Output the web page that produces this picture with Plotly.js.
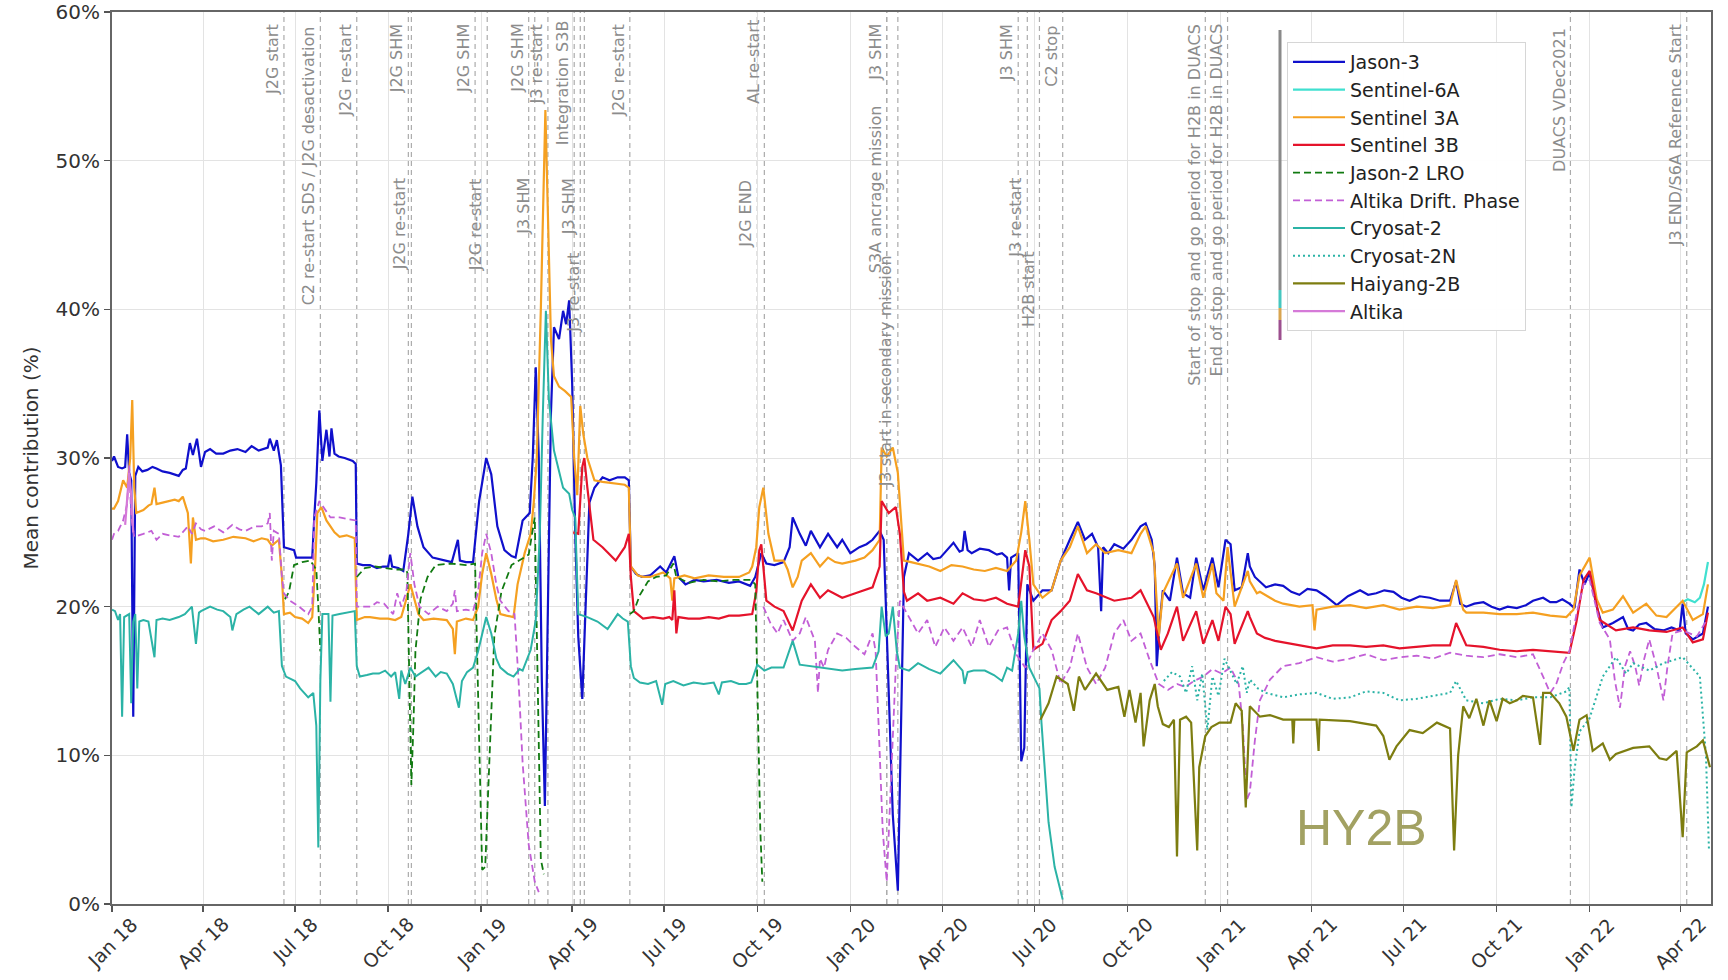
<!DOCTYPE html>
<html>
<head>
<meta charset="utf-8">
<script src="https://cdn.plot.ly/plotly-3.0.1.min.js"></script>
<style>
  html, body { margin: 0; padding: 0; background: #ffffff; }
  #chart { width: 1728px; height: 980px; }
</style>
</head>
<body>
<div id="chart"></div>
<script>
// ---------------- DATA (x = days since 2018-01-01, y = mean contribution in %) ----------------
const jason3 = [[0,29.8],[2,30.1],[6,29.4],[10,29.3],[13,29.4],[15,31.6],[17,29.0],[19,28.5],[21,12.6],[23,28.8],[26,29.4],[30,29.1],[35,29.2],[40,29.4],[44,29.3],[50,29.1],[57,29.0],[62,28.9],[66,28.8],[70,29.2],[73,29.3],[77,31.0],[80,30.2],[84,31.3],[88,29.4],[92,30.4],[97,30.6],[103,30.3],[110,30.3],[117,30.5],[124,30.6],[132,30.4],[138,30.8],[145,30.5],[150,30.6],[154,30.7],[156,31.3],[160,30.5],[163,31.2],[165,30.4],[167,29.5],[170,24.0],[175,23.9],[180,23.8],[182,23.3],[190,23.3],[198,23.3],[200,26.0],[202,28.3],[205,33.2],[208,29.8],[212,31.9],[215,30.1],[217,32.0],[220,30.3],[224,30.1],[230,30.0],[238,29.8],[241,29.6],[242,22.9],[248,22.8],[255,22.8],[262,22.6],[268,22.7],[273,22.7],[275,23.5],[277,22.7],[283,22.6],[288,22.4],[293,24.9],[297,27.4],[302,25.4],[308,24.0],[317,23.3],[324,23.2],[331,23.1],[336,23.0],[342,24.5],[344,23.1],[350,23.0],[357,23.0],[363,27.1],[370,30.0],[375,28.9],[381,25.4],[388,23.8],[395,23.4],[399,23.3],[406,25.8],[413,26.3],[416,30.0],[419,36.1],[422,30.0],[425,15.0],[428,6.6],[431,20.0],[434,33.0],[437,38.8],[442,38.0],[446,39.9],[449,39.0],[452,40.6],[455,35.0],[458,25.0],[461,18.0],[465,13.8],[468,20.0],[472,27.0],[477,28.0],[485,28.7],[492,28.5],[500,28.7],[507,28.7],[511,28.5],[513,22.7],[518,22.2],[524,22.0],[532,22.1],[542,22.7],[548,22.3],[556,23.4],[560,22.0],[567,21.5],[576,21.8],[585,21.7],[598,21.8],[610,21.6],[620,21.7],[631,21.4],[636,22.0],[642,23.6],[647,22.9],[655,22.8],[664,23.0],[670,24.0],[673,26.0],[680,24.9],[686,24.1],[691,25.1],[700,24.0],[708,24.9],[717,24.0],[722,24.5],[730,23.6],[739,24.0],[746,24.2],[752,24.5],[759,25.1],[763,24.5],[767,16.0],[772,6.0],[777,0.9],[780,12.0],[783,22.0],[788,23.6],[797,23.1],[806,23.6],[812,23.2],[819,23.3],[826,23.8],[832,24.3],[838,23.7],[841,23.8],[843,25.1],[846,23.8],[850,23.6],[858,23.9],[867,23.8],[875,23.5],[880,23.6],[885,23.3],[887,21.1],[889,23.3],[896,23.6],[899,9.6],[902,10.5],[905,21.5],[911,20.4],[920,21.1],[929,21.1],[938,23.1],[947,24.5],[955,25.7],[962,24.5],[969,24.9],[975,24.0],[978,19.7],[980,24.0],[985,23.6],[991,24.2],[1000,23.9],[1008,24.5],[1017,25.4],[1022,25.6],[1028,24.5],[1031,22.7],[1033,16.0],[1036,19.0],[1039,21.1],[1046,20.4],[1053,23.3],[1059,20.9],[1066,20.6],[1072,23.3],[1079,21.1],[1088,23.3],[1094,21.3],[1101,24.5],[1106,24.2],[1110,21.1],[1117,21.3],[1123,23.6],[1125,22.7],[1130,22.0],[1141,21.3],[1150,21.5],[1158,21.4],[1166,21.0],[1174,20.8],[1182,21.2],[1191,21.1],[1200,20.7],[1211,20.1],[1222,20.7],[1234,21.1],[1242,20.8],[1250,20.9],[1258,21.1],[1267,21.0],[1275,20.6],[1283,20.4],[1293,20.7],[1303,20.6],[1313,20.4],[1323,20.4],[1329,21.7],[1333,20.2],[1339,20.0],[1347,20.2],[1356,20.3],[1364,20.0],[1372,19.8],[1380,20.0],[1389,19.9],[1398,20.1],[1405,20.4],[1415,20.6],[1422,20.3],[1428,20.3],[1434,20.5],[1441,20.2],[1446,19.9],[1451,22.5],[1456,21.5],[1461,22.3],[1468,20.0],[1474,18.6],[1484,18.9],[1494,19.3],[1499,18.5],[1504,18.4],[1510,18.8],[1517,18.9],[1525,18.5],[1534,18.4],[1542,18.6],[1550,18.4],[1553,20.2],[1556,18.2],[1563,17.8],[1568,18.0],[1573,18.2],[1578,20.0]];

const sentinel6A = [[1553,20.3],[1558,20.5],[1565,20.3],[1570,20.6],[1574,21.5],[1578,23.0]];

const sentinel3A = [[0,26.6],[2,26.6],[6,27.1],[11,28.5],[15,28.0],[18,30.0],[20,33.9],[22,28.0],[24,26.3],[31,26.5],[36,26.8],[39,26.9],[42,28.0],[44,26.9],[50,27.0],[57,27.1],[62,27.2],[66,27.1],[70,27.4],[75,26.3],[78,22.9],[80,26.0],[83,24.5],[88,24.6],[92,24.6],[100,24.4],[110,24.5],[120,24.7],[132,24.6],[140,24.4],[148,24.6],[154,24.5],[158,24.1],[165,24.5],[168,22.0],[170,19.5],[176,19.6],[181,19.3],[188,19.2],[194,18.9],[198,19.3],[201,23.0],[203,26.3],[207,26.7],[212,25.8],[216,25.4],[220,25.0],[225,24.7],[232,24.8],[240,24.6],[242,19.1],[250,19.3],[255,19.3],[265,19.2],[273,19.2],[280,19.1],[286,19.3],[291,20.5],[295,21.5],[299,20.5],[303,19.5],[308,19.1],[318,19.2],[331,19.1],[337,18.5],[339,16.8],[341,19.0],[350,19.2],[357,19.1],[362,20.0],[366,22.2],[370,23.6],[375,22.2],[380,20.5],[384,19.5],[390,19.4],[397,19.3],[401,21.5],[408,23.6],[414,24.9],[417,27.0],[420,30.0],[424,40.0],[428.5,53.4],[431,46.0],[434,38.0],[437,35.5],[442,34.8],[448,34.5],[454,34.1],[457,30.0],[460,27.5],[463,33.5],[466,31.6],[470,30.0],[477,28.5],[485,28.4],[495,28.3],[507,28.2],[511,28.0],[513,22.7],[520,22.1],[525,22.0],[532,22.0],[545,22.3],[552,21.9],[554,20.4],[556,21.9],[566,22.1],[576,21.9],[590,22.1],[605,22.0],[620,22.0],[630,22.3],[633,22.7],[637,24.0],[640,26.7],[644,28.0],[649,24.9],[655,23.1],[664,23.1],[668,22.5],[673,21.3],[678,22.0],[682,23.1],[691,23.6],[700,22.7],[708,23.3],[715,23.0],[722,22.9],[735,23.1],[744,23.3],[752,23.8],[759,24.5],[761,30.7],[766,30.1],[772,30.7],[777,29.0],[780,26.0],[783,23.1],[790,23.0],[797,22.9],[808,22.7],[819,22.4],[830,22.8],[841,22.7],[852,22.5],[863,22.4],[874,22.6],[885,22.4],[894,23.1],[899,25.0],[903,27.1],[907,24.5],[911,21.5],[920,20.6],[929,21.1],[938,23.1],[947,24.0],[955,25.4],[964,23.6],[973,24.2],[982,23.6],[995,23.8],[1008,23.6],[1017,24.9],[1022,25.4],[1030,23.6],[1035,18.0],[1039,20.9],[1053,22.9],[1059,20.6],[1072,22.9],[1079,20.6],[1088,22.9],[1092,20.9],[1099,20.4],[1103,24.0],[1110,20.0],[1123,22.4],[1125,21.7],[1132,20.9],[1135,21.0],[1145,20.6],[1150,20.4],[1158,20.2],[1174,20.0],[1187,20.1],[1189,18.4],[1191,19.8],[1207,20.0],[1224,20.1],[1240,19.9],[1257,20.1],[1273,19.8],[1290,20.0],[1306,19.9],[1323,20.1],[1329,21.8],[1336,19.8],[1339,19.6],[1356,19.6],[1372,19.5],[1389,19.5],[1405,19.6],[1422,19.4],[1438,19.3],[1445,19.8],[1451,22.1],[1461,23.3],[1468,20.5],[1474,19.6],[1484,19.8],[1494,20.7],[1504,19.6],[1517,20.2],[1527,19.4],[1537,19.3],[1553,20.4],[1563,19.1],[1573,19.5],[1578,21.5]];

const sentinel3B = [[456,25.0],[461,24.9],[465,29.4],[467,30.0],[470,28.0],[476,24.5],[485,24.0],[492,23.5],[498,23.1],[503,23.6],[507,24.0],[511,24.9],[513,22.0],[516,19.7],[525,19.2],[535,19.3],[545,19.2],[551,19.3],[554,19.1],[556,21.1],[558,18.2],[560,19.3],[570,19.2],[581,19.2],[590,19.3],[600,19.2],[610,19.4],[620,19.4],[633,19.5],[637,21.0],[640,23.8],[642,24.2],[645,22.0],[647,20.4],[655,20.0],[664,19.7],[673,18.4],[682,20.4],[691,21.5],[700,20.6],[708,21.1],[722,20.6],[735,20.9],[752,21.3],[759,22.7],[761,27.1],[768,26.3],[775,26.7],[779,24.9],[783,21.0],[786,20.4],[797,20.9],[806,20.4],[819,20.6],[832,20.2],[841,20.9],[852,20.5],[863,20.4],[874,20.6],[885,20.2],[896,20.0],[900,22.0],[903,23.8],[907,22.7],[911,17.1],[920,17.5],[929,19.1],[938,19.7],[947,20.4],[955,22.2],[964,21.1],[973,20.9],[991,20.4],[1008,20.6],[1017,21.1],[1030,19.3],[1037,17.1],[1044,18.2],[1053,20.0],[1059,17.7],[1072,19.7],[1079,17.5],[1088,19.1],[1094,17.7],[1101,20.0],[1106,19.5],[1110,17.5],[1123,19.7],[1125,19.3],[1132,18.2],[1140,17.9],[1150,17.7],[1158,17.6],[1174,17.4],[1191,17.2],[1207,17.4],[1224,17.4],[1240,17.3],[1257,17.4],[1273,17.2],[1290,17.3],[1306,17.4],[1323,17.4],[1329,18.9],[1339,17.4],[1356,17.3],[1372,17.1],[1389,17.0],[1405,17.1],[1422,17.0],[1441,16.9],[1448,19.0],[1455,21.8],[1461,22.4],[1471,19.1],[1487,18.4],[1504,18.6],[1520,18.4],[1537,18.3],[1553,18.6],[1563,17.6],[1573,17.8],[1578,19.6]];

const jason2LRO = [[171,20.5],[175,21.0],[180,22.8],[188,23.0],[196,23.1],[202,22.5],[204,20.0],[206,17.0],[207,null],[242,22.0],[250,22.6],[260,22.7],[270,22.6],[280,22.5],[290,22.5],[292,22.3],[294,15.0],[296,8.0],[298,12.0],[300,17.0],[305,20.5],[312,22.0],[320,22.8],[335,22.9],[350,22.8],[359,22.9],[362,14.0],[366,2.3],[369,2.5],[371,6.0],[374,12.0],[378,18.0],[385,21.0],[395,22.8],[405,23.2],[412,23.5],[418,26.0],[421,15.0],[424,3.0],[427,2.0],[428,null],[512,19.5],[516,19.7],[522,20.8],[530,21.7],[538,22.0],[548,22.1],[555,22.9],[558,22.0],[570,21.6],[585,21.8],[600,21.7],[615,21.8],[632,21.8],[636,21.5],[638,15.0],[641,5.0],[643,1.5]];

const altikaDrift = [[0,24.5],[2,24.9],[6,25.1],[11,25.8],[15,26.9],[17,29.5],[19,26.0],[22,24.7],[31,24.9],[39,25.1],[44,24.5],[50,24.9],[57,24.8],[66,24.7],[75,25.4],[79,24.9],[83,25.6],[88,25.2],[92,25.1],[101,25.4],[110,25.0],[119,25.5],[126,25.2],[132,25.1],[141,25.4],[148,25.4],[154,25.6],[156,26.3],[158,23.1],[160,25.1],[165,24.9],[168,22.0],[170,20.9],[176,20.4],[185,20.0],[194,19.5],[198,20.0],[200,26.0],[205,27.1],[209,26.7],[216,26.0],[225,26.0],[232,25.9],[238,25.8],[241,25.8],[242,20.0],[256,20.0],[262,20.3],[269,20.2],[278,19.5],[282,20.9],[286,20.0],[291,21.0],[295,23.6],[299,21.5],[304,20.0],[313,19.5],[322,20.0],[331,19.7],[337,20.2],[339,21.1],[341,19.7],[350,19.8],[357,19.7],[362,21.0],[366,23.6],[370,24.9],[375,23.6],[380,21.5],[384,20.4],[392,19.7],[398,19.5],[402,15.0],[406,9.5],[412,4.0],[418,1.5],[422,0.8],[423,null],[644,20.0],[651,18.9],[658,18.2],[664,19.1],[673,17.7],[680,18.2],[686,19.3],[695,17.7],[698,14.2],[700,16.5],[704,15.9],[708,17.1],[717,18.2],[726,17.9],[735,17.3],[744,16.8],[752,18.2],[755,17.0],[758,12.0],[762,5.0],[766,1.5],[770,8.0],[775,16.0],[779,20.4],[788,19.3],[797,18.2],[806,19.1],[814,17.3],[823,18.6],[832,17.7],[841,18.6],[850,17.3],[858,19.1],[867,17.3],[876,18.4],[885,18.6],[894,16.8],[903,15.9],[911,17.1],[920,18.2],[929,17.1],[938,14.8],[947,15.9],[955,18.2],[964,15.9],[973,14.8],[982,15.9],[991,18.2],[1000,19.1],[1008,17.7],[1017,18.2],[1026,16.4],[1035,14.8],[1044,14.4],[1053,14.8],[1061,14.6],[1070,15.0],[1079,15.3],[1088,15.8],[1097,15.5],[1106,15.9],[1114,14.8],[1118,12.0],[1122,7.0],[1125,7.5],[1130,11.0],[1135,13.7],[1145,15.1],[1158,16.0],[1174,16.2],[1191,16.6],[1207,16.3],[1224,16.5],[1240,16.8],[1257,16.4],[1273,16.6],[1290,16.7],[1306,16.5],[1323,16.9],[1339,16.7],[1356,16.6],[1372,16.8],[1389,16.6],[1405,16.8],[1415,15.3],[1422,14.2],[1428,14.8],[1435,16.2],[1441,17.0],[1448,19.5],[1455,21.5],[1461,21.8],[1471,18.9],[1481,17.8],[1486,15.0],[1491,13.2],[1496,16.0],[1501,17.0],[1506,16.0],[1510,14.7],[1515,16.5],[1520,17.8],[1527,16.0],[1534,13.7],[1538,16.0],[1543,18.2],[1553,18.4],[1567,18.0],[1576,19.0]];

const cryosat2 = [[0,19.8],[3,19.7],[6,19.1],[8,19.5],[10,12.6],[12,19.3],[17,19.5],[19,13.5],[21,19.0],[23,19.5],[25,14.5],[27,19.0],[31,19.1],[36,19.0],[42,16.6],[44,19.1],[50,19.2],[57,19.1],[66,19.3],[72,19.5],[79,20.0],[83,17.5],[86,19.6],[88,19.7],[97,20.0],[104,19.8],[110,19.7],[117,19.3],[119,18.4],[123,19.5],[130,19.8],[136,20.0],[145,19.5],[150,19.8],[154,20.0],[160,19.6],[165,19.7],[168,16.0],[172,15.3],[181,15.0],[186,14.5],[190,14.2],[194,13.9],[199,14.2],[202,12.0],[204,3.8],[206,15.0],[208,19.5],[214,19.5],[216,13.6],[218,19.4],[225,19.5],[232,19.6],[240,19.7],[242,16.0],[245,15.3],[252,15.4],[258,15.5],[264,15.5],[270,15.7],[276,15.3],[280,15.6],[284,13.8],[286,15.7],[290,14.8],[295,15.9],[300,15.3],[307,15.6],[313,15.9],[320,15.3],[325,15.6],[331,15.5],[337,14.8],[343,13.2],[346,15.0],[351,15.6],[357,15.9],[362,17.0],[366,18.2],[370,19.3],[375,18.2],[380,16.5],[384,15.9],[391,15.5],[397,15.3],[403,15.8],[406,15.7],[414,17.1],[419,19.1],[423,24.9],[426,33.0],[429,39.9],[432,33.9],[437,30.5],[446,28.0],[452,27.6],[455,26.5],[458,26.0],[461,19.5],[470,19.3],[480,19.0],[490,18.5],[500,19.5],[505,19.2],[510,19.0],[513,16.0],[516,15.2],[522,14.9],[530,14.8],[538,15.0],[544,13.4],[547,14.8],[555,15.0],[565,14.7],[575,14.9],[585,14.8],[595,14.9],[600,14.1],[603,14.9],[612,15.0],[620,14.8],[627,14.8],[632,14.9],[638,16.1],[645,15.7],[652,15.9],[664,15.9],[673,17.7],[680,16.1],[690,16.0],[700,15.9],[710,15.8],[722,15.7],[735,15.8],[752,15.9],[758,17.0],[761,20.0],[765,18.0],[768,18.2],[772,20.0],[776,17.0],[779,15.9],[788,15.7],[797,16.2],[808,15.8],[819,15.5],[832,16.4],[841,15.7],[843,14.8],[846,15.6],[852,15.7],[863,15.7],[872,15.4],[880,15.0],[885,15.9],[890,15.7],[896,18.2],[899,20.4],[902,18.0],[907,15.9],[912,15.2],[917,14.5],[919,12.2],[922,9.3],[926,5.5],[932,2.5],[940,0.3]];

const cryosat2N = [[1040,15.0],[1048,15.6],[1056,15.3],[1062,14.2],[1068,16.0],[1073,13.7],[1078,15.5],[1083,11.7],[1088,15.3],[1094,14.0],[1100,16.5],[1106,15.7],[1112,14.8],[1118,16.0],[1122,14.2],[1125,15.1],[1133,14.5],[1141,14.2],[1158,13.9],[1174,14.1],[1191,14.2],[1207,13.8],[1224,13.9],[1240,14.3],[1257,14.2],[1273,13.7],[1290,13.8],[1306,14.0],[1323,14.2],[1329,15.0],[1339,13.7],[1356,13.5],[1372,13.8],[1389,13.7],[1405,13.9],[1422,13.9],[1438,14.3],[1441,14.6],[1443,6.5],[1446,9.0],[1451,11.6],[1461,12.5],[1474,15.3],[1487,16.6],[1497,15.5],[1504,16.2],[1520,15.7],[1534,16.2],[1553,16.6],[1570,15.3],[1576,10.0],[1579,3.6]];

const haiyang2B = [[918,12.4],[926,13.5],[934,15.3],[945,14.8],[951,13.0],[956,15.3],[962,14.4],[973,15.5],[984,14.4],[995,14.6],[1001,12.6],[1006,14.4],[1012,12.2],[1017,14.2],[1020,10.6],[1026,13.7],[1031,14.8],[1034,13.3],[1039,12.1],[1045,11.9],[1050,12.4],[1053,3.2],[1056,12.4],[1062,12.6],[1067,12.2],[1073,3.6],[1075,9.2],[1081,11.3],[1087,11.9],[1095,12.2],[1106,12.2],[1111,13.5],[1117,13.0],[1121,6.5],[1125,13.3],[1135,12.6],[1145,12.7],[1158,12.4],[1167,12.4],[1168,10.8],[1169,12.4],[1191,12.4],[1193,10.3],[1194,12.4],[1224,12.3],[1250,12.0],[1257,11.3],[1263,9.7],[1270,10.6],[1283,11.7],[1296,11.5],[1310,12.2],[1323,11.8],[1327,3.6],[1331,10.0],[1336,13.3],[1342,12.5],[1349,13.8],[1356,12.0],[1362,13.7],[1369,12.3],[1375,13.8],[1382,13.5],[1389,13.7],[1395,14.0],[1405,13.9],[1412,10.7],[1415,14.2],[1422,14.2],[1431,13.5],[1438,12.6],[1445,10.3],[1451,12.4],[1458,12.7],[1464,10.3],[1474,10.8],[1481,9.7],[1487,10.1],[1504,10.5],[1520,10.6],[1530,9.8],[1537,9.7],[1547,10.3],[1553,4.5],[1557,10.2],[1567,10.6],[1573,11.0],[1580,9.2]];

const altika = [[13,25.5],[15,27.0],[17,29.0],[19,27.5],[21,25.0]];

const seriesNames = ['Jason-3','Sentinel-6A','Sentinel 3A','Sentinel 3B','Jason-2 LRO','Altika Drift. Phase','Cryosat-2','Cryosat-2N','Haiyang-2B','Altika'];

const tickDates = ['2018-01-01','2018-04-01','2018-07-01','2018-10-01','2019-01-01','2019-04-01','2019-07-01','2019-10-01','2020-01-01','2020-04-01','2020-07-01','2020-10-01','2021-01-01','2021-04-01','2021-07-01','2021-10-01','2022-01-01','2022-04-01'];
const tickLabels = ['Jan 18','Apr 18','Jul 18','Oct 18','Jan 19','Apr 19','Jul 19','Oct 19','Jan 20','Apr 20','Jul 20','Oct 20','Jan 21','Apr 21','Jul 21','Oct 21','Jan 22','Apr 22'];
const yTicks = [0,10,20,30,40,50,60];

const eventDates = ['2018-06-20','2018-07-26','2018-08-31','2018-10-21','2018-10-24','2018-12-26','2019-01-07','2019-02-17','2019-02-23','2019-03-08','2019-04-03','2019-04-09','2019-04-13','2019-05-28','2019-10-01','2019-10-08','2020-02-06','2020-02-06','2020-02-17','2020-06-15','2020-06-24','2020-07-06','2020-07-29','2020-12-17','2021-01-08','2021-12-13','2022-04-07'];
const eventLabels = ['J2G start','C2 re-start SDS / J2G desactivation','J2G re-start','J2G SHM','J2G re-start','J2G SHM','J2G re-start','J2G SHM','J3 SHM','J3 re-start','Integration S3B','J3 SHM','J3 re-start','J2G re-start','J2G END','AL re-start','J3 SHM','S3A ancrage mission','J3 start in secondary mission','J3 SHM','J3 re-start','H2B start','C2 stop','Start of stop and go period for H2B in DUACS','End of stop and go period for H2B in DUACS','DUACS VDec2021','J3 END/S6A Reference Start'];
const annotationText = 'HY2B';

// ---------------- LAYOUT / STYLE ----------------
// label top positions in screen px (layout only)
const labelTopPx = [22,24,22,22,175,22,176,22,176,22,18,176,251,22,178,18,22,103,253,22,176,249,24,22,22,26,22];

const BASE = Date.UTC(2018,0,1);
const toDate = d => new Date(BASE + d*864e5).toISOString().slice(0,19).replace('T',' ');

const PLOT_TOP = 12, PLOT_BOTTOM = 904, PLOT_LEFT = 112, PLOT_RIGHT = 1711;
const pyPaper = px => (PLOT_BOTTOM - px) / (PLOT_BOTTOM - PLOT_TOP);
const pxPaper = px => (px - PLOT_LEFT) / (PLOT_RIGHT - PLOT_LEFT);

const styles = [
  {color:'#1010cc', width:2.2, dash:'solid'},
  {color:'#40e0d0', width:2.2, dash:'solid'},
  {color:'#f5a021', width:2.2, dash:'solid'},
  {color:'#e5132b', width:2.2, dash:'solid'},
  {color:'#117a11', width:1.8, dash:'7px,4px'},
  {color:'#c25fd6', width:1.8, dash:'7px,4px'},
  {color:'#2bb3a6', width:2.0, dash:'solid'},
  {color:'#2bb3a6', width:2.0, dash:'2px,3px'},
  {color:'#7d7d10', width:2.2, dash:'solid'},
  {color:'#d57ad8', width:2.2, dash:'solid'}
];

const allSeries = [jason3, sentinel6A, sentinel3A, sentinel3B, jason2LRO, altikaDrift, cryosat2, cryosat2N, haiyang2B, altika];

const traces = allSeries.map((s, i) => ({
  type: 'scatter',
  mode: 'lines',
  name: seriesNames[i],
  legendgroup: 'g' + i,
  x: s.map(p => toDate(p[0])),
  y: s.map(p => p[1]),
  connectgaps: false,
  line: {color: styles[i].color, width: styles[i].width, dash: styles[i].dash},
  hoverinfo: 'skip'
}));

const shapes = eventDates.map(d => ({
  type: 'line', xref: 'x', yref: 'paper', x0: d, x1: d, y0: 0, y1: 1,
  layer: 'between',
  line: {color: '#ababab', width: 1.2, dash: '5px,4px'}
}));

// cropped-overlay artefact next to the legend
shapes.push({type:'line', xref:'paper', yref:'paper', x0:pxPaper(1280), x1:pxPaper(1280), y0:pyPaper(290), y1:pyPaper(30), line:{color:'#8a8a8a', width:3}});
shapes.push({type:'line', xref:'paper', yref:'paper', x0:pxPaper(1280), x1:pxPaper(1280), y0:pyPaper(308), y1:pyPaper(290), line:{color:'#46c7c0', width:3}});
shapes.push({type:'line', xref:'paper', yref:'paper', x0:pxPaper(1280), x1:pxPaper(1280), y0:pyPaper(320), y1:pyPaper(308), line:{color:'#d9a550', width:3}});
shapes.push({type:'line', xref:'paper', yref:'paper', x0:pxPaper(1280), x1:pxPaper(1280), y0:pyPaper(340), y1:pyPaper(320), line:{color:'#9c4f8e', width:3}});

const annotations = eventDates.map((d, i) => ({
  xref: 'x', yref: 'paper', x: d, y: pyPaper(labelTopPx[i]),
  text: eventLabels[i], textangle: -90, showarrow: false,
  xanchor: 'right', yanchor: 'top', xshift: 0,
  font: {family: 'DejaVu Sans', size: 16, color: '#8c8c8c'}
}));

// x tick labels: rotated 45 degrees and centred under each tick
tickDates.forEach((d, i) => annotations.push({
  xref: 'x', yref: 'paper', x: d, y: pyPaper(912),
  text: tickLabels[i], textangle: -45, showarrow: false,
  xanchor: 'center', yanchor: 'top', borderpad: 0,
  font: {family: 'DejaVu Sans', size: 19, color: '#333333'}
}));

annotations.push({
  xref: 'paper', yref: 'paper', x: pxPaper(1361), y: pyPaper(828),
  xanchor: 'center', yanchor: 'middle', showarrow: false,
  text: annotationText,
  font: {family: 'Liberation Sans, Arial, sans-serif', size: 50, color: '#a2a162'}
});

const layout = {
  width: 1728, height: 980,
  margin: {l: PLOT_LEFT, r: 1728 - PLOT_RIGHT, t: PLOT_TOP, b: 980 - PLOT_BOTTOM, pad: 0},
  paper_bgcolor: '#ffffff', plot_bgcolor: '#ffffff',
  font: {family: 'DejaVu Sans', color: '#333333'},
  showlegend: true,
  legend: {
    x: pxPaper(1287), y: pyPaper(42), xanchor: 'left', yanchor: 'top',
    bgcolor: 'rgba(255,255,255,0.95)', bordercolor: '#d6d6d6', borderwidth: 1,
    font: {family: 'DejaVu Sans', size: 19, color: '#222222'},
    traceorder: 'normal', tracegroupgap: 2, itemwidth: 52
  },
  xaxis: {
    type: 'date',
    range: ['2018-01-01', '2022-05-01'],
    tickmode: 'array', tickvals: tickDates, showticklabels: false,
    ticks: 'outside', ticklen: 6, tickwidth: 1.5, tickcolor: '#555555',
    showgrid: true, gridcolor: '#e3e3e3', gridwidth: 1,
    showline: true, linecolor: '#666666', linewidth: 2, mirror: true,
    zeroline: false, automargin: false
  },
  yaxis: {
    range: [0, 60],
    tickmode: 'array', tickvals: yTicks, ticktext: yTicks.map(v => v + '%'),
    tickfont: {size: 20, color: '#333333'},
    ticks: 'outside', ticklen: 6, tickwidth: 1.5, tickcolor: '#555555',
    showgrid: true, gridcolor: '#e3e3e3', gridwidth: 1,
    showline: true, linecolor: '#666666', linewidth: 2, mirror: true,
    zeroline: false, automargin: false,
    title: {text: 'Mean contribution (%)', font: {size: 20, color: '#333333'}, standoff: 12}
  },
  shapes: shapes,
  annotations: annotations
};

Plotly.newPlot('chart', traces, layout, {displayModeBar: false, staticPlot: true});
</script>
</body>
</html>
